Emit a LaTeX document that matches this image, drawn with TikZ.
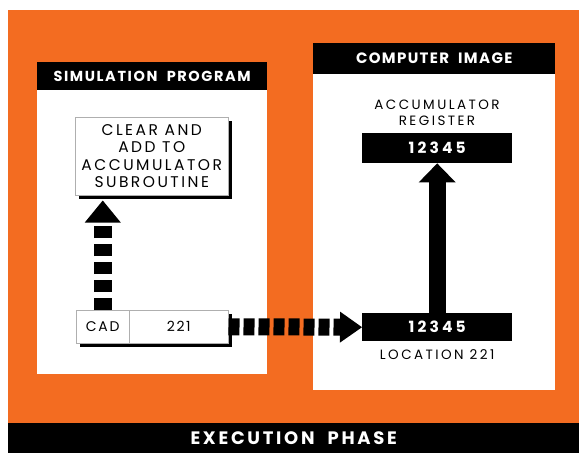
\documentclass[tikz,border=0pt]{standalone}
\usepackage{fontspec}
\setmainfont{Poppins}
\newfontfamily\lblfont{Poppins}
\newfontfamily\hdrfont{Poppins}
\usetikzlibrary{arrows.meta,shadows}
\definecolor{bgorange}{RGB}{243,108,33}
\definecolor{edgegray}{RGB}{175,175,175}
\tikzset{
  hdr/.style={fill=black, text=white, inner sep=0pt, anchor=north west,
    font=\hdrfont\bfseries\addfontfeature{LetterSpace=11}\fontsize{14.5}{16}\selectfont},
  regbox/.style={fill=black, text=white, inner sep=0pt, anchor=north west,
    minimum width=150pt, font=\hdrfont\bfseries\addfontfeature{LetterSpace=20}\fontsize{15.5}{17}\selectfont},
  progbox/.style={fill=white, draw=edgegray, line width=0.5pt, inner sep=0pt, anchor=north west,
    drop shadow={shadow xshift=4pt, shadow yshift=-4pt, fill=black, opacity=1},
    font=\lblfont\addfontfeature{LetterSpace=16}\fontsize{15.5}{17.5}\selectfont, align=center},
  lbl/.style={font=\lblfont\addfontfeature{LetterSpace=18}\fontsize{13.5}{16.5}\selectfont, align=center, inner sep=0pt},
  dashv/.style={line width=18pt, dash pattern=on 12pt off 6pt,
    -{Triangle[width=36pt,length=22pt,line width=0pt]}},
  dashh/.style={line width=17pt, dash pattern=on 11pt off 4pt,
    -{Triangle[width=31pt,length=22pt,line width=0pt]}},
  solidv/.style={line width=17pt, -{Triangle[width=37pt,length=19pt,line width=0pt]}}
}
\begin{document}
\begin{tikzpicture}[x=1pt,y=-1pt]
\useasboundingbox (0,0) rectangle (579,453);
\fill[white] (0,0) rectangle (579,453);
\fill[bgorange] (8,10) rectangle (579,423);
% bottom bar
\node[hdr, minimum width=571pt, minimum height=30pt,
  font=\hdrfont\bfseries\addfontfeature{LetterSpace=15}\fontsize{18}{20}\selectfont] (phase) at (8,423) {EXECUTION\ \ PHASE};
% left panel
\fill[white] (37,90) rectangle (267,374);
\node[hdr, minimum width=230pt, minimum height=28pt] (simhdr) at (37,62) {SIMULATION\ \ PROGRAM};
% right panel
\fill[white] (313,74) rectangle (555,390);
\node[hdr, minimum width=242pt, minimum height=31pt,
  font=\hdrfont\bfseries\addfontfeature{LetterSpace=9}\fontsize{15}{17}\selectfont] (comphdr) at (313,43) {COMPUTER\ \ IMAGE};
% subroutine box
\node[progbox, minimum width=153pt, minimum height=78pt] (sub) at (75,117)
  {CLEAR AND\\ADD TO\\ACCUMULATOR\\SUBROUTINE};
% CAD instruction
\node[progbox, minimum width=53pt, minimum height=33pt,
  font=\lblfont\addfontfeature{LetterSpace=12}\fontsize{14}{16}\selectfont] (cad) at (76,310) {CAD};
\node[progbox, minimum width=99pt, minimum height=33pt,
  font=\lblfont\addfontfeature{LetterSpace=12}\fontsize{14}{16}\selectfont] (addr) at (129,310) {221};
% computer image
\node[lbl] (acclbl) at (437,113) {ACCUMULATOR\\REGISTER};
\node[regbox, minimum height=30pt] (acc) at (362,133) {12345};
\node[regbox, minimum height=28pt] (loc) at (362,313) {12345};
\node[lbl, anchor=north] (loclbl) at ([yshift=-8pt]loc.south) {LOCATION 221};
% connectors
\path (sub.south -| cad.north) ++(0,5) coordinate (subtip);
\draw[dashv] (cad.north) -- (subtip);
\draw[dashh] (addr.east) -- (loc.west);
\draw[solidv] (loc.north) -- (acc.south);
\end{tikzpicture}
\end{document}
